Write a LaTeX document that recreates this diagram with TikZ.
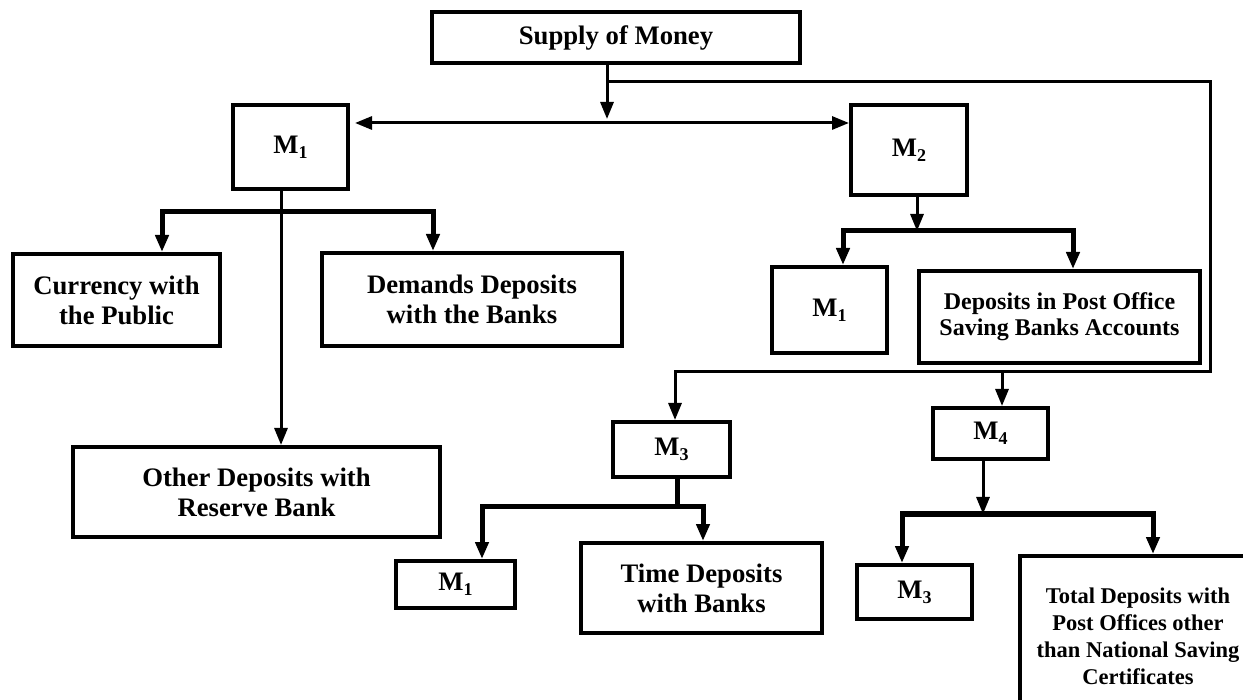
\documentclass[tikz,border=0pt]{standalone}
\usepackage{fontspec}
\setmainfont{Liberation Serif}
\usetikzlibrary{arrows.meta,calc}
\newcommand\Msub[1]{M\raisebox{-5pt}{\fontsize{18pt}{18pt}\selectfont #1}}
\begin{document}
\begin{tikzpicture}[x=1pt,y=-1pt,
  box/.style={draw, line width=4pt, inner sep=0pt, align=center,
    font=\fontsize{26.7pt}{30pt}\selectfont\bfseries},
  smallbox/.style={box, font=\fontsize{24pt}{26pt}\selectfont\bfseries},
  tinybox/.style={box, font=\fontsize{22.5pt}{27pt}\selectfont\bfseries},
  conn/.style={line width=3pt},
  br/.style={line width=5pt},
  tip/.tip={Triangle[width=13pt,length=17pt]},
]
\useasboundingbox (0,0) rectangle (1243,700);
\fill[white] (0,0) rectangle (1243,700);
\clip (0,0) rectangle (1243,700);

% nodes
\node[box, minimum width=368pt, minimum height=51pt] (sup) at (616,37.5) {Supply of Money};
\node[box, minimum width=115pt, minimum height=84pt] (m1) at (290.5,147) {\Msub{1}};
\node[box, minimum width=116pt, minimum height=90pt] (m2) at (909,150) {\Msub{2}};
\node[box, minimum width=207pt, minimum height=92pt] (cur) at (116.5,300) {Currency with\\the Public};
\node[box, minimum width=300pt, minimum height=93pt] (dem) at (472,299.5) {Demands Deposits\\with the Banks};
\node[box, minimum width=367pt, minimum height=90pt] (oth) at (256.5,492) {Other Deposits with\\Reserve Bank};
\node[box, minimum width=115pt, minimum height=86pt] (m1b) at (829.5,310) {\Msub{1}};
\node[smallbox, minimum width=281pt, minimum height=92pt] (po) at (1059.5,317) {Deposits in Post Office\\Saving Banks Accounts};
\node[box, minimum width=117pt, minimum height=55pt] (m3) at (671.5,449.5) {\Msub{3}};
\node[box, minimum width=115pt, minimum height=51pt] (m4) at (990.5,433.5) {\Msub{4}};
\node[box, minimum width=119pt, minimum height=47pt] (m1c) at (455.5,584.5) {\Msub{1}};
\node[box, minimum width=241pt, minimum height=90pt] (time) at (701.5,588) {Time Deposits\\with Banks};
\node[box, minimum width=115pt, minimum height=54pt] (m3b) at (914.5,592) {\Msub{3}};
\node[tinybox, minimum width=236pt, minimum height=160pt] (tot) at (1138,636) {Total Deposits with\\Post Offices other\\than National Saving\\Certificates};

% junction coordinates
\coordinate (j1) at (607,82);
\coordinate (rt) at (1210,82);
\coordinate (rb) at (1210,372);
\coordinate (dl) at (355,123);
\coordinate (b1l) at (162,212);
\coordinate (b1r) at (433,212);
\coordinate (b2l) at (843,231);
\coordinate (b2r) at (1073,231);
\coordinate (b3l) at (482,507);
\coordinate (b3r) at (703,507);
\coordinate (b4l) at (902,514);
\coordinate (b4r) at (1153,514);

% supply of money trunk
\draw[conn,-tip] ([xshift=-9pt]sup.south) -- ++(0,54);
\draw[conn,tip-tip] (dl) -- (m2.west |- dl);
% loop to M3 and M4
\draw[conn,-tip] (j1) -- (rt) -- (rb) -- ([xshift=3.5pt]m3.north |- rb) -- ([xshift=3.5pt]m3.north);
\draw[conn,-tip] ([xshift=11.5pt]m4.north |- rb) -- ([xshift=11.5pt]m4.north);

% M1 branches
\draw[conn,-tip] ([xshift=-9.5pt]m1.south) -- ([xshift=-9.5pt]m1.south |- oth.north);
\draw[br,tip-tip] (b1l |- cur.north) -- (b1l) -- (b1r) -- (b1r |- dem.north);

% M2 branches
\draw[conn,-tip] ([xshift=8pt]m2.south) -- ([xshift=8pt]m2.south |- b2l);
\draw[br,tip-tip] (b2l |- m1b.north) -- (b2l) -- (b2r) -- (b2r |- po.north);

% M3 branches
\draw[br] ([xshift=5.5pt]m3.south) -- ([xshift=5.5pt]m3.south |- b3l);
\draw[br,tip-tip] (b3l |- m1c.north) -- (b3l) -- (b3r) -- (b3r |- time.north);

% M4 branches
\draw[conn,-tip] ([xshift=-7.5pt]m4.south) -- ([xshift=-7.5pt]m4.south |- b4l);
\draw[br,tip-tip] (b4l |- m3b.north) -- (b4l) -- (b4r) -- (b4r |- tot.north);
\end{tikzpicture}
\end{document}
